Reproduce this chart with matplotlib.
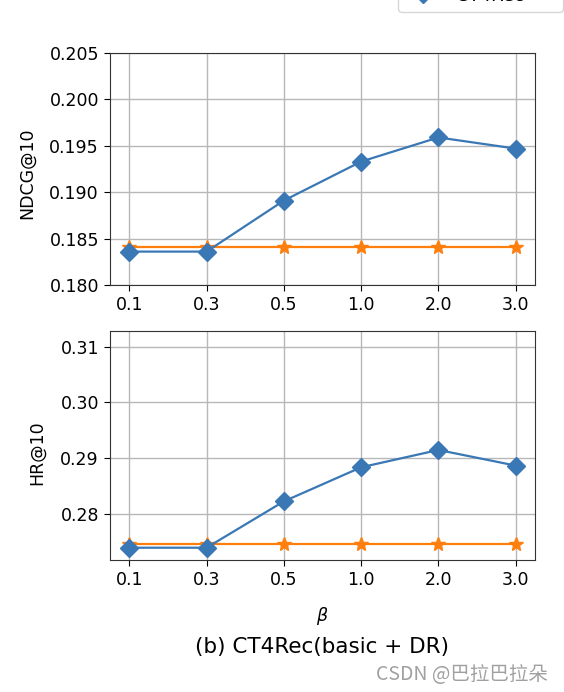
import numpy as np
import matplotlib.pyplot as plt

# beta values on the x axis (categorical)
betas = ['0.1', '0.3', '0.5', '1.0', '2.0', '3.0']

ndcg_ct4rec = [0.1836, 0.1836, 0.1891, 0.1933, 0.1959, 0.1947]
ndcg_base = [0.1841, 0.1841, 0.1841, 0.1841, 0.1841, 0.1841]

hr_ct4rec = [0.2740, 0.2740, 0.2823, 0.2884, 0.2915, 0.2887]
hr_base = [0.2747, 0.2747, 0.2747, 0.2747, 0.2747, 0.2747]

plt.rcParams['font.size'] = 12.5
plt.rcParams['xtick.major.size'] = 4.5
plt.rcParams['ytick.major.size'] = 4.5

fig = plt.figure(figsize=(5.64, 6.92), dpi=100)
W, H = 564, 692
ax1 = fig.add_axes([110/W, 1-285/H, 425/W, 232/H])
ax2 = fig.add_axes([110/W, 1-560/H, 425/W, 229/H])

x = np.arange(len(betas))
blue, orange = '#3a78b5', '#ff7f0e'

for ax, ct, base in [(ax1, ndcg_ct4rec, ndcg_base), (ax2, hr_ct4rec, hr_base)]:
    ax.plot(x, ct, color=blue, marker='D', markersize=9, lw=1.6, label='CT4Rec', zorder=3)
    ax.plot(x, base, color=orange, marker='*', markersize=10, lw=1.6, label='basic + DR', zorder=2)
    ax.set_xticks(x)
    ax.set_xticklabels(betas)
    ax.grid(True, color='#b8b8b8', lw=1)
    ax.set_axisbelow(True)
    for s in ax.spines.values():
        s.set_color('#333333')

ax1.set_ylim(0.180, 0.205)
ax1.set_yticks([0.180, 0.185, 0.190, 0.195, 0.200, 0.205])
ax1.set_yticklabels(['0.180', '0.185', '0.190', '0.195', '0.200', '0.205'])
ax1.set_ylabel('NDCG@10')
ax1.yaxis.set_label_coords(-0.174, 0.48)

ax2.set_ylim(0.2718, 0.3128)
ax2.set_yticks([0.28, 0.29, 0.30, 0.31])
ax2.set_ylabel('HR@10')
ax2.yaxis.set_label_coords(-0.151, 0.47)
ax2.set_xlabel(r'$\beta$')
ax2.xaxis.set_label_coords(0.5, -0.195)

# legend sits mostly above the figure, as in the cropped original
h, l = ax1.get_legend_handles_labels()
fig.legend(h[::-1], l[::-1], loc='lower left', bbox_to_anchor=(398/W, 1-12/H),
           borderaxespad=0, fontsize=13)

fig.text(322/W, 1-647/H, '(b) CT4Rec(basic + DR)', ha='center', va='center', fontsize=15.5)
fig.text(548/W, 1-675/H, 'CSDN @巴拉巴拉朵', ha='right', va='center', fontsize=14,
         color='#a0a0a0', family=['Noto Sans CJK SC', 'DejaVu Sans'])

fig.savefig('out.png', dpi=100)
